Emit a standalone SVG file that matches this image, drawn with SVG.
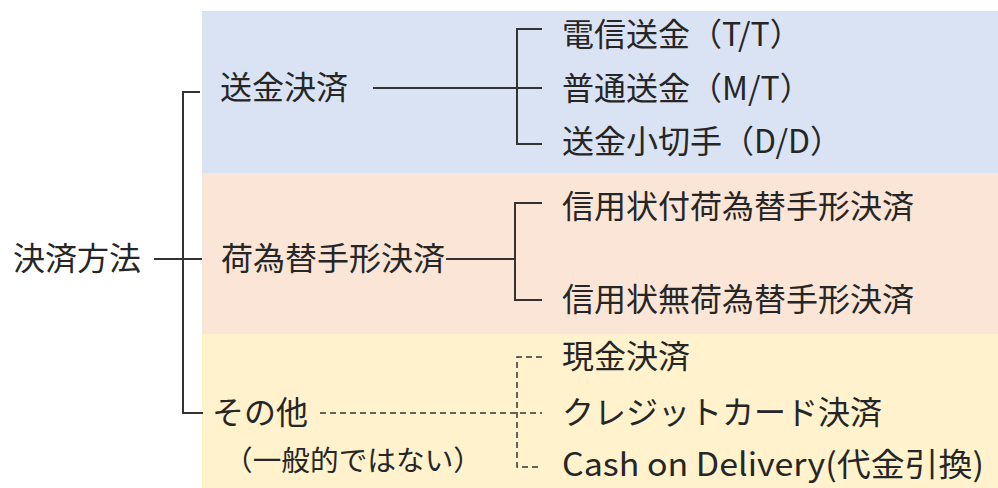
<svg xmlns="http://www.w3.org/2000/svg" width="998" height="488" viewBox="0 0 998 488">
<style>
text{font-family:"Noto Sans CJK JP","Noto Sans",sans-serif;font-size:32px;fill:#262626;dominant-baseline:central}
.sm{font-size:28px}
.ln{stroke:#333;stroke-width:2;fill:none}
.ds{stroke:#333;stroke-width:1.5;fill:none;stroke-dasharray:6 4}
</style>
<rect x="202" y="11" width="796" height="162" fill="#DAE3F3"/>
<rect x="202" y="173" width="796" height="161" fill="#FBE5D6"/>
<rect x="202" y="334" width="796" height="154" fill="#FFF2CC"/>
<g id="connectors">
<path class="ln" d="M154 259H202M200 92H183V413H203"/>
<path class="ln" d="M373 88H542M542 29H517V144H542"/>
<path class="ln" d="M446 259H515M542 203H515V300H542"/>
<path class="ds" d="M320 413H542M542 357H517V467H542"/>
</g>
<g id="root"><text x="13" y="256">決済方法</text></g>
<g id="remit"><text x="220" y="85">送金決済</text></g>
<g id="bill"><text x="221" y="256">荷為替手形決済</text></g>
<g id="other"><text x="212" y="410">その他</text><text class="sm" x="224" y="459" textLength="258" lengthAdjust="spacingAndGlyphs">（一般的ではない）</text></g>
<g id="tt"><text x="562" y="32">電信送金（T/T）</text></g>
<g id="mt"><text x="562" y="86">普通送金（M/T）</text></g>
<g id="dd"><text x="562" y="139">送金小切手（D/D）</text></g>
<g id="lc"><text x="562" y="204">信用状付荷為替手形決済</text></g>
<g id="nolc"><text x="562" y="297">信用状無荷為替手形決済</text></g>
<g id="cash"><text x="562" y="354">現金決済</text></g>
<g id="card"><text x="562" y="410">クレジットカード決済</text></g>
<g id="cod"><text x="562" y="462" textLength="422" lengthAdjust="spacingAndGlyphs">Cash on Delivery(代金引換)</text></g>
</svg>
